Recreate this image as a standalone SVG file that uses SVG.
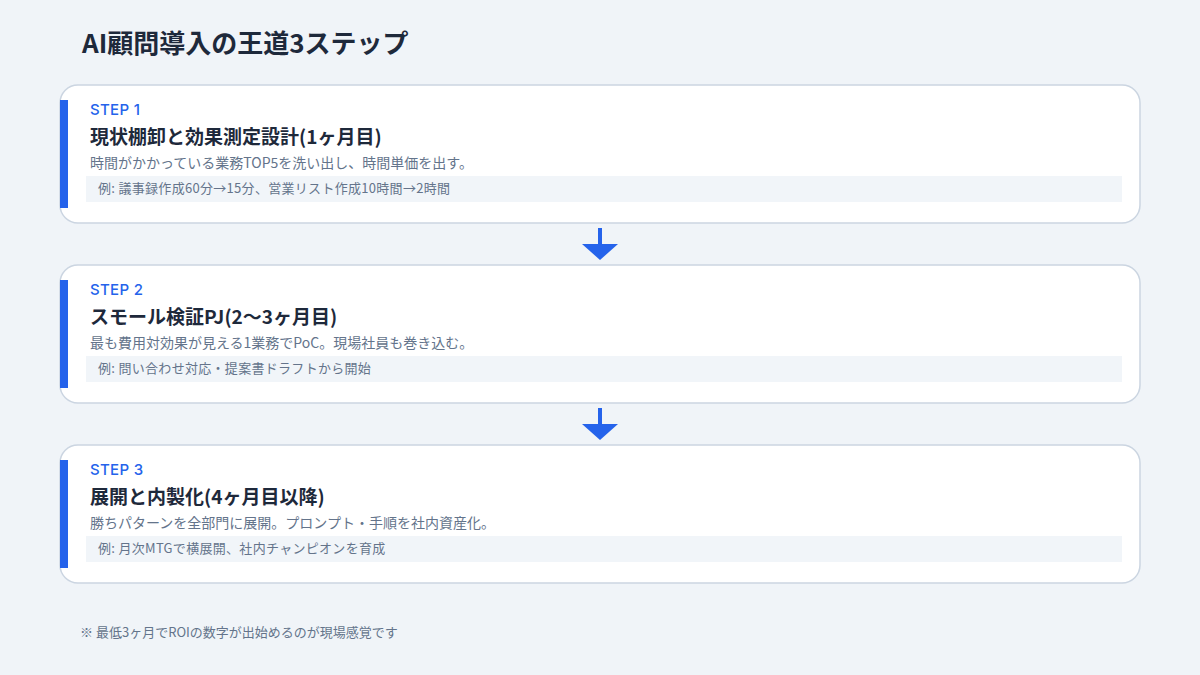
<svg xmlns="http://www.w3.org/2000/svg" width="1200" height="675" viewBox="0 0 1200 675">
<style>
text{font-family:"Noto Sans CJK JP",Inter,sans-serif}
.card{fill:#ffffff;stroke:#cbd5e1;stroke-width:1.5}
.bar{fill:#2563eb}
.ex{fill:#f1f5f9}
.step{font-family:Inter,"Noto Sans CJK JP",sans-serif;font-size:15px;font-weight:500;letter-spacing:0.3px;fill:#2563eb}
.ttl{font-size:19px;font-weight:700;fill:#1e293b}
.desc{font-size:14px;fill:#64748b}
.exT{font-size:13px;letter-spacing:0.3px;fill:#64748b}
.arrow{fill:#2563eb}
</style>
<rect width="1200" height="675" fill="#f0f4f8"/>
<text x="82" y="53" font-size="26" font-weight="700" fill="#1e293b">AI顧問導入の王道3ステップ</text>
<g id="step1">
<rect class="card" x="60" y="85" width="1080" height="138" rx="18"/>
<rect class="bar" x="60" y="100" width="8" height="108"/>
<text class="step" x="90" y="115">STEP 1</text>
<text class="ttl" x="90" y="144">現状棚卸と効果測定設計(1ヶ月目)</text>
<text class="desc" x="90" y="168">時間がかかっている業務TOP5を洗い出し、時間単価を出す。</text>
<rect class="ex" x="86" y="176" width="1036" height="26"/>
<text class="exT" x="98" y="193">例: 議事録作成60分→15分、営業リスト作成10時間→2時間</text>
</g>
<g id="step2">
<rect class="card" x="60" y="265" width="1080" height="138" rx="18"/>
<rect class="bar" x="60" y="280" width="8" height="108"/>
<text class="step" x="90" y="295">STEP 2</text>
<text class="ttl" x="90" y="324">スモール検証PJ(2〜3ヶ月目)</text>
<text class="desc" x="90" y="348">最も費用対効果が見える1業務でPoC。現場社員も巻き込む。</text>
<rect class="ex" x="86" y="356" width="1036" height="26"/>
<text class="exT" x="98" y="373">例: 問い合わせ対応・提案書ドラフトから開始</text>
</g>
<g id="step3">
<rect class="card" x="60" y="445" width="1080" height="138" rx="18"/>
<rect class="bar" x="60" y="460" width="8" height="108"/>
<text class="step" x="90" y="475">STEP 3</text>
<text class="ttl" x="90" y="504">展開と内製化(4ヶ月目以降)</text>
<text class="desc" x="90" y="528">勝ちパターンを全部門に展開。プロンプト・手順を社内資産化。</text>
<rect class="ex" x="86" y="536" width="1036" height="26"/>
<text class="exT" x="98" y="553">例: 月次MTGで横展開、社内チャンピオンを育成</text>
</g>
<g id="connectors">
<rect class="arrow" x="598" y="228" width="4" height="17"/>
<polygon class="arrow" points="582,244 618,244 600,260"/>
<rect class="arrow" x="598" y="408" width="4" height="17"/>
<polygon class="arrow" points="582,424 618,424 600,440"/>
</g>
<text x="80" y="637" font-size="13" fill="#64748b">※ 最低3ヶ月でROIの数字が出始めるのが現場感覚です</text>
</svg>
